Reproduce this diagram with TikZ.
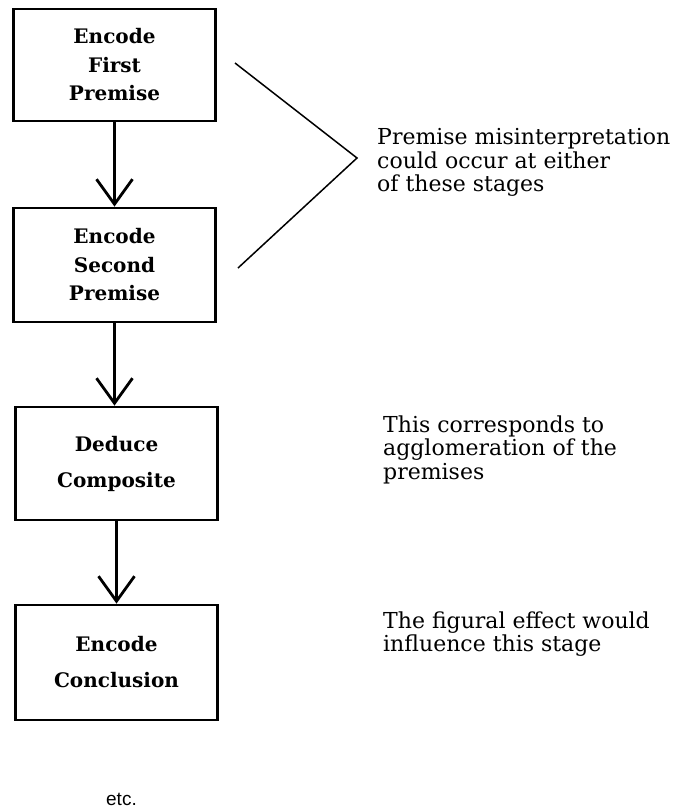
\documentclass[tikz,border=0pt]{standalone}
\usepackage{fontspec}
\setmainfont{DejaVu Serif}
\newfontfamily\etcfont{Liberation Sans}
\usetikzlibrary{arrows.meta}
\tikzset{
  stagebox/.style={draw=black, line width=2.8pt, inner sep=0pt, align=center,
    minimum width=202pt, font={\fontsize{20}{28.5}\selectfont\bfseries}},
  widebox/.style={stagebox, font={\fontsize{20}{36}\selectfont\bfseries}},
  flow/.style={line width=2.8pt, -{Straight Barb[length=25pt,width=36pt,line width=2.8pt]}},
  note/.style={anchor=north west, inner sep=0pt, align=left,
    font={\fontsize{22}{23.5}\selectfont}},
  bracket/.style={line width=1.5pt, line join=miter}
}
\begin{document}
\begin{tikzpicture}[x=1pt,y=-1pt]
\useasboundingbox (0,0) rectangle (676,812);
% stage boxes
\node[stagebox, minimum height=112pt] (b1) at (114.5,65) {Encode\\First\\Premise};
\node[stagebox, minimum height=114pt] (b2) at (114.5,265) {Encode\\Second\\Premise};
\node[widebox, minimum height=113pt] (b3) at (116.5,463.5) {Deduce\\Composite};
\node[widebox, minimum height=115pt] (b4) at (116.5,662.5) {Encode\\Conclusion};
% flow arrows
\draw[flow] (b1.south) -- (b2.north);
\draw[flow] (b2.south) -- (b2.south |- b3.north);
\draw[flow] (b3.south) -- (b4.north);
% bracket
\coordinate (btop) at (235,63);
\coordinate (btip) at (357,158);
\coordinate (bbot) at (238,268);
\draw[bracket] (btop) -- (btip) -- (bbot);
% notes
\node[note] (n1) at (377,128.3) {Premise misinterpretation\\could occur at either\\of these stages};
\node[note] (n2) at (383,415.3) {This corresponds to\\agglomeration of the\\premises};
\node[note] (n3) at (383,611.3) {The figural effect would\\influence this stage};
\node[anchor=base east, inner sep=0pt, font={\etcfont\fontsize{19}{22}\selectfont}] (etc) at (137,805) {etc.};
\end{tikzpicture}
\end{document}
